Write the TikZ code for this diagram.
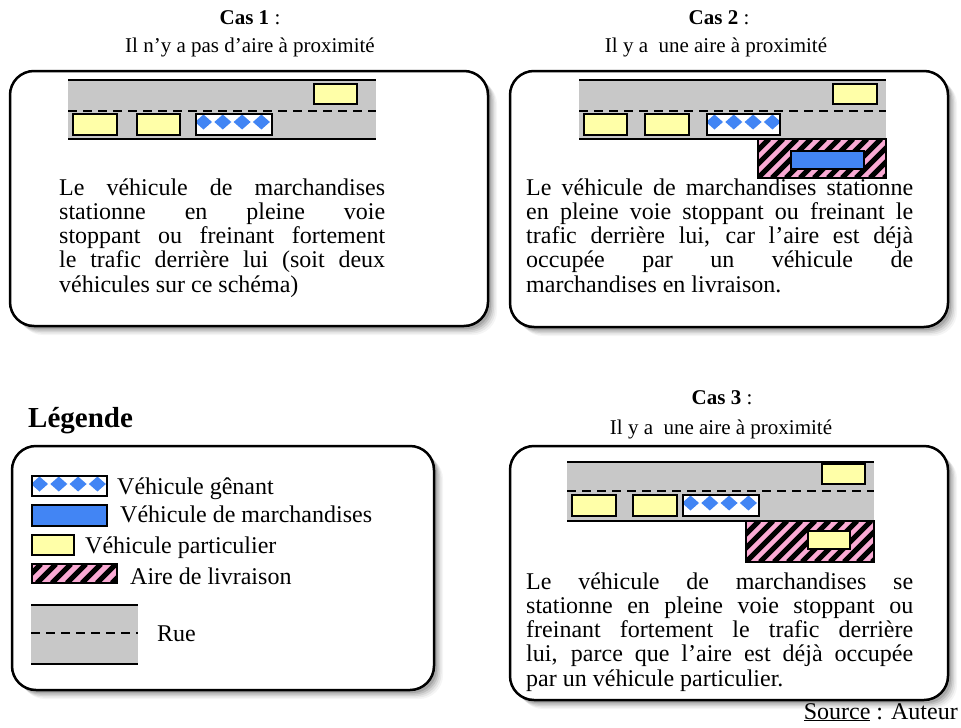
\documentclass[tikz,border=0pt]{standalone}
\usepackage{fontspec}
\setmainfont{Liberation Serif}
\usetikzlibrary{calc}
\tolerance=10000
\hbadness=10000
\hyphenpenalty=10000
\definecolor{roadgray}{RGB}{200,200,200}
\definecolor{caryellow}{RGB}{255,255,168}
\definecolor{truckblue}{RGB}{66,133,244}
\definecolor{areapink}{RGB}{250,170,212}
\tikzset{
  panel/.style={draw=black, line width=2.5pt, rounded corners=24pt, fill=white},
  carstyle/.style={draw=black, line width=2.2pt, fill=caryellow},
  truckstyle/.style={draw=black, line width=2.2pt, fill=truckblue},
  hinderline/.style={draw=black, line width=2.2pt},
  roadline/.style={line width=2.2pt},
  roaddash/.style={line width=2.2pt, dash pattern=on 9pt off 6pt},
  titlefont/.style={font=\fontsize{21}{25}\selectfont, inner sep=0pt},
  bodytext/.style={font=\fontsize{24}{24.2}\selectfont, inner sep=0pt, align=justify, anchor=north west},
  legtext/.style={font=\fontsize{24}{26}\selectfont, inner sep=0pt, anchor=base west},
}
\newcommand{\shadowpanel}[4]{%
  \foreach \s/\o in {9/0.04,7.5/0.06,6/0.08,4.5/0.10,3/0.12}{%
    \fill[black,opacity=\o,rounded corners=24pt] ({#1+\s},{#2+\s}) rectangle ({#3+\s},{#4+\s});}
  \draw[panel] (#1,#2) rectangle (#3,#4);}
\newcommand{\roadstrip}[5]{%
  \fill[roadgray] (#1,#2) rectangle (#5,#4);
  \draw[roadline] (#1,#2) -- (#5,#2);
  \draw[roadline] (#1,#4) -- (#5,#4);
  \draw[roaddash] (#1,#3) -- (#5,#3);}
\newcommand{\carbox}[4]{\draw[carstyle] (#1,#2) rectangle (#3,#4);}
\newcommand{\truckbox}[4]{\draw[truckstyle] (#1,#2) rectangle (#3,#4);}
\newcommand{\hinderbox}[4]{%
  \begin{scope}
    \clip (#1,#2) rectangle (#3,#4);
    \fill[white] (#1,#2) rectangle (#3,#4);
    \foreach \k in {0,...,4}{%
      \foreach \r in {0,1}{%
        \fill[truckblue] ({#1+7.5+19.3*\k-8.5},{#2+8+19.5*\r}) -- ++(8.5,-7.5) -- ++(8.5,7.5) -- ++(-8.5,7.5) -- cycle;}}
  \end{scope}
  \draw[hinderline] (#1,#2) rectangle (#3,#4);}
\newcommand{\airebox}[5]{%
  \fill[areapink] (#1,#2) rectangle (#3,#4);
  \begin{scope}
    \clip (#1,#2) rectangle (#3,#4);
    \pgfmathsetmacro\hatchh{#4-#2}
    \foreach \k in {0,...,22}{%
      \draw[line width=5.2pt] ({#1-70+\k*#5},#4) -- ({#1-70+\k*#5+\hatchh},#2);}
  \end{scope}
  \draw[line width=2.5pt] (#1,#2) rectangle (#3,#4);}

\begin{document}
\begin{tikzpicture}[x=1pt,y=-1pt]
\useasboundingbox (0,0) rectangle (961,728);

% ---------- Titles ----------
\node[titlefont, anchor=base] (c1t) at (250,24) {\textbf{Cas 1} :};
\node[titlefont, anchor=base] (c1s) at (250,52) {Il n’y a pas d’aire à proximité};
\node[titlefont, anchor=base] (c2t) at (719,24) {\textbf{Cas 2} :};
\node[titlefont, anchor=base] (c2s) at (716,52) {Il y a~ une aire à proximité};
\node[titlefont, anchor=base] (c3t) at (722,404) {\textbf{Cas 3} :};
\node[titlefont, anchor=base] (c3s) at (721,434) {Il y a~ une aire à proximité};
\node[font=\fontsize{29}{32}\selectfont\bfseries, inner sep=0pt, anchor=base west] (leg) at (28,427) {Légende};

% ---------- Case 1 ----------
\shadowpanel{10}{71}{488}{326}
\roadstrip{68}{80}{111}{139}{376}
\carbox{314}{84}{357}{104}
\carbox{73}{114}{117}{135}
\carbox{137}{114}{180}{135}
\hinderbox{196}{114}{272}{135}
\node[bodytext, text width=326pt] (t1) at (59,178) {\rule{0pt}{17pt}Le véhicule de marchandises\linebreak stationne en pleine voie\linebreak stoppant ou freinant fortement\linebreak le trafic derrière lui (soit deux\linebreak véhicules sur ce schéma)};

% ---------- Case 2 ----------
\shadowpanel{510}{71}{948}{327}
\roadstrip{579}{80}{111}{139}{886}
\carbox{833}{84}{877}{104}
\carbox{584}{114}{627}{135}
\carbox{645}{114}{689}{135}
\hinderbox{707}{114}{780}{135}
\airebox{758}{139}{886}{178}{14}
\truckbox{791}{151}{864}{169}
\node[bodytext, text width=387pt] (t2) at (526,178) {\rule{0pt}{17pt}Le véhicule de marchandises stationne\linebreak en pleine voie stoppant ou freinant le\linebreak trafic derrière lui, car l’aire est déjà\linebreak occupée par un véhicule de\linebreak marchandises en livraison.};

% ---------- Legend ----------
\shadowpanel{12}{446}{434}{690}
\hinderbox{32}{476}{107}{496}
\node[legtext] (l1) at (117,494) {Véhicule gênant};
\truckbox{32}{505}{107}{526}
\node[legtext] (l2) at (120,522) {Véhicule de marchandises};
\carbox{32}{535}{74}{555}
\node[legtext] (l3) at (85,553) {Véhicule particulier};
\airebox{32}{564}{117}{583}{15}
\node[legtext] (l4) at (130,584) {Aire de livraison};
\roadstrip{31}{605}{633}{664}{138}
\node[legtext] (l5) at (157,641) {Rue};

% ---------- Case 3 ----------
\shadowpanel{510}{446}{948}{700}
\roadstrip{567}{462}{491}{521}{874}
\carbox{822}{464}{865}{484}
\carbox{572}{495}{616}{516}
\carbox{633}{495}{677}{516}
\hinderbox{683}{495}{759}{516}
\airebox{746}{521}{874}{562}{14}
\carbox{808}{531}{850}{549}
\node[bodytext, text width=387pt] (t3) at (526,572) {\rule{0pt}{17pt}Le véhicule de marchandises se\linebreak stationne en pleine voie stoppant ou\linebreak freinant fortement le trafic derrière\linebreak lui, parce que l’aire est déjà occupée\linebreak par un véhicule particulier.};

% ---------- Source ----------
\node[font=\fontsize{24}{26}\selectfont, inner sep=0pt, anchor=base east] (src) at (958,719) {\underline{Source} : Auteur};
\end{tikzpicture}
\end{document}
